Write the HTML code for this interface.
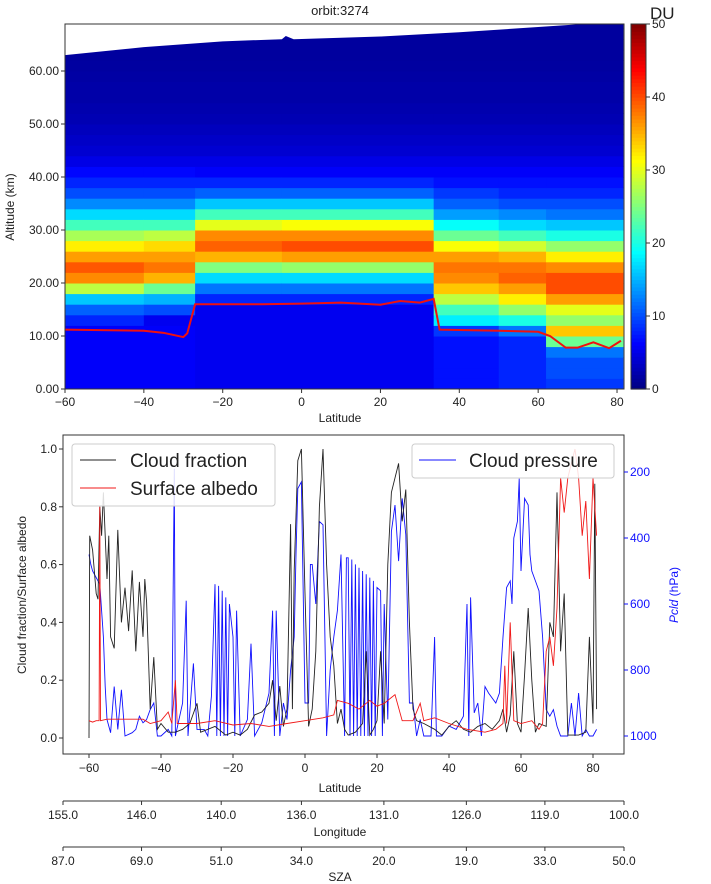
<!DOCTYPE html>
<html><head><meta charset="utf-8"><style>
body{margin:0;background:#fff;}
svg{display:block;font-family:"Liberation Sans","DejaVu Sans",sans-serif;}
</style></head><body>
<svg id="c" width="711" height="884" viewBox="0 0 711 884"></svg>
<script>
// ===== Top heatmap data =====
const colLatEdges=[-60,-40,-27,-5,33.5,50,62,81.5];
const rowAltStep=2; // km per row, rows from 0 km upward
const colA=[6,6,6,6,6,6,8,11,16,28,37,39.5,36,32,27,22,17,13,10,8,6.5,5,4,3.5,3,2.5,2.3,2,2,1.8,1.6,1.5,1.5,1.5,1.5];
const colB=[6,6,6,6,6,6,5.5,10,15,24,35,38,36,33,28,22,17,13,10,8,6.5,5,4,3.5,3,2.5,2.3,2,2,1.8,1.6,1.5,1.5,1.5,1.5];
const colC=[5.5,5.5,5.5,5.5,5.5,5.5,5.5,5.5,8,12,17,25,35,39,37,30,22,16,11,8,6,5,4,3.5,3,2.5,2.3,2,2,1.8,1.6,1.5,1.5,1.5,1.5];
const colD=[5.5,5.5,5.5,5.5,5.5,5.5,5.5,5.5,8,12,17,26,36,40,37,31,22,16,11,8,6,5,4,3.5,3,2.5,2.3,2,2,1.8,1.6,1.5,1.5,1.5,1.5];
const colE=[7,7,7,7,7,9,18,22,28,34,37,38,36,31,24,19,14,11,9,7,6,5,4,3.5,3,2.5,2.3,2,2,1.8,1.6,1.5,1.5,1.5,1.5];
const colF=[8,8,8,8,8,12,20,26,32,36,39,38,35,29,22,17,13,10,8,7,6,5,4,3.5,3,2.5,2.3,2,2,1.8,1.6,1.5,1.5,1.5,1.5];
const colG=[9,10,10,12,24,34,26,30,36,40,40,37,32,26,20,16,12,10,8,7,6,5,4,3.5,3,2.5,2.3,2,2,1.8,1.6,1.5,1.5,1.5,1.5];
const heatCols=[colA,colB,colC,colD,colE,colF,colG];
const topLat=[-60,-40,-20,-5,-4,-2,20,40,60,70,81.5];
const topAlt=[63,64.5,65.6,66,66.6,66,66.5,67.3,68.3,68.8,69];
const tropLat=[-60,-40,-35,-30,-29,-27,-10,0,10,20,25,30,33.5,35,50,60,63,67,70,74,78,81];
const tropAlt=[11.2,11.0,10.6,9.8,10.5,16.0,16.0,16.1,16.3,15.9,16.6,16.3,17,11.2,11.0,10.8,10,7.8,7.8,8.8,7.7,9.1];
const topXTicks=[-60,-40,-20,0,20,40,60,80];
const topYTicks=[0,10,20,30,40,50,60];
const cbTicks=[0,10,20,30,40,50];
// ===== Bottom line data =====
const cfLat=[-60,-59.8,-59,-58,-57.5,-57,-56.5,-56,-55,-54.5,-54,-53,-52,-51,-50,-49,-48,-47,-46,-45,-44.5,-44,-43,-42,-41,-40,-38,-36,-34,-32,-30,-29,-27,-25,-22,-20,-18,-16,-14,-12,-10,-9,-8,-7,-6,-5,-4,-3.5,-3,-2,-1,0,1,2,3,4,5,6,7,8,9,10,11,12,14,16,17,18,19,20,21,22,23,24,25,26,27,28,29,30,31,33,36,38,40,42,44,46,48,50,52,54,55,56,57,58,59,60,61,62,63,64,65,67,68,69,70,71,72,73,76,78,79,80,80.5,81];
const cfVal=[0.0,0.7,0.65,0.5,0.48,0.8,0.7,0.85,0.55,0.7,0.35,0.31,0.72,0.4,0.52,0.37,0.58,0.3,0.54,0.35,0.55,0.47,0.1,0.28,0.03,0.05,0.02,0.02,0.03,0.05,0.12,0.02,0.03,0.04,0.01,0.02,0.01,0.03,0.08,0.09,0.12,0.2,0.06,0.18,0.04,0.1,0.74,0.1,0.58,0.96,1.0,0.5,0.04,0.1,0.3,0.8,1.0,0.6,0.35,0.25,0.05,0.1,0.03,0.01,0.02,0.05,0.3,0.01,0.03,0.06,0.3,0.05,0.6,0.85,0.9,0.95,0.75,0.86,0.4,0.1,0.06,0.05,0.03,0.01,0.04,0.06,0.03,0.02,0.04,0.05,0.03,0.06,0.1,0.02,0.08,0.3,0.05,0.02,0.22,0.45,0.2,0.02,0.05,0.04,0.4,0.35,0.85,0.3,0.5,0.01,0.01,0.02,0.35,0.05,0.88,0.1];
const saLat=[-60,-59,-58,-57.2,-57,-56.8,-55,-50,-45,-43,-40,-38,-37,-36,-35.5,-30,-25,-20,-15,-10,-5,0,5,8,9,12,15,18,20,22,24,25,27,30,32,33,36,40,45,50,53,55,55.5,56,57,58,60,63,65,66,67,68,69,70,71,72,73,74,75,76,77,78,79,80,81];
const saVal=[0.06,0.055,0.06,0.06,0.8,0.06,0.065,0.065,0.065,0.05,0.06,0.09,0.05,0.2,0.05,0.05,0.06,0.045,0.05,0.04,0.05,0.06,0.07,0.08,0.13,0.12,0.1,0.13,0.11,0.12,0.14,0.15,0.06,0.06,0.12,0.06,0.07,0.05,0.03,0.02,0.03,0.05,0.25,0.05,0.4,0.06,0.05,0.06,0.03,0.05,0.3,0.35,0.25,0.45,0.9,0.78,0.9,0.95,1.0,0.9,0.7,0.82,0.55,0.9,0.7];
const cpLat=[-60,-59.5,-59,-58,-57,-56,-55.5,-55,-54,-53,-52,-51,-50,-48,-47,-46,-45,-44,-43,-42,-41,-40,-38,-37,-36.3,-36,-34,-33,-32.5,-31,-30,-28,-27,-26,-25,-24.5,-24,-23.5,-23,-22.5,-22,-21.5,-21,-20,-19.5,-19,-18,-16,-15,-14,-12,-10,-9,-8.5,-8,-7,-6,-5,-4,-3,-2.5,-2,-1,0,1,1.5,2,3,4,5,6,7,8,9,10,11,11.5,12,12.5,13,13.5,14,14.5,15,15.5,16,16.5,17,17.5,18,18.5,19,19.5,20,21,21.5,22,23,24,25,26,27,28,29,30,31,32,33,35,36,36.5,38,40,42,44,45,45.5,46,47,48,49,50,51,53,54,55,56,57,57.5,58,59,59.5,60,61,62,62.5,63,64,65,66,67,68,69,70,71,73,74,75,76,77,78,79,80,81];
const cpVal=[450,480,500,520,540,700,850,950,990,850,980,860,1000,990,980,940,960,950,920,900,1000,1000,980,1000,190,1000,900,590,1000,780,980,980,1000,880,540,1000,545,1000,560,1000,580,1000,600,700,1000,620,1000,950,720,1000,960,870,620,1000,620,1000,900,950,800,700,450,250,230,900,900,480,480,600,350,360,1000,800,700,620,450,1000,460,460,1000,465,1000,480,1000,490,1000,500,1000,510,1000,520,1000,530,1000,550,560,1000,600,950,380,300,470,280,390,900,900,1000,950,1000,1000,700,1000,1000,970,980,940,600,1000,580,930,900,1000,850,870,900,870,700,550,530,600,400,350,220,500,280,300,450,500,530,560,700,920,940,920,970,1000,1000,900,1000,870,1000,980,1000,1000,980];
const botXTicks=[-60,-40,-20,0,20,40,60,80];
const leftYTicks=[0,0.2,0.4,0.6,0.8,1.0];
const rightYTicks=[200,400,600,800,1000];
const lonLabels=["155.0","146.0","140.0","136.0","131.0","126.0","119.0","100.0"];
const lonFrac=[0,0.14,0.282,0.425,0.572,0.719,0.859,1];
const szaLabels=["87.0","69.0","51.0","34.0","20.0","19.0","33.0","50.0"];

const NS="http://www.w3.org/2000/svg";
const svg=document.getElementById('c');
function mk(tag,attrs,parent){const e=document.createElementNS(NS,tag);for(const k in attrs)e.setAttribute(k,attrs[k]);(parent||svg).appendChild(e);return e;}
function txt(s,x,y,attrs){const e=mk('text',Object.assign({x:x,y:y,'font-size':12,fill:'#222'},attrs||{}));e.textContent=s;return e;}
function jet(v){let t=Math.max(0,Math.min(1,v/50));
 const r=Math.max(0,Math.min(1,1.5-Math.abs(4*t-3))),g=Math.max(0,Math.min(1,1.5-Math.abs(4*t-2))),b=Math.max(0,Math.min(1,1.5-Math.abs(4*t-1)));
 return `rgb(${Math.round(r*255)},${Math.round(g*255)},${Math.round(b*255)})`;}

// top axes
const TL=65,TR=624,TT=24,TB=389;
const xT=lat=>TL+(lat+60)*3.943;
const yT=a=>TB-a*5.3;
const hm=mk('g',{});


heatCols.forEach((col,ci)=>{
 const x0=xT(colLatEdges[ci]),x1=xT(colLatEdges[ci+1]);
 col.forEach((v,ri)=>{
  const a0=ri*rowAltStep,a1=a0+rowAltStep;
  const y1=Math.max(TT,yT(a1)),y0=yT(a0);
  if(y0<=TT)return;
  const r=mk('rect',{x:x0,y:y1,width:x1-x0+0.5,height:y0-y1+0.5,fill:jet(v)},hm);
  
  
 });
});
// white top mask
let pts=`${TL},${TT} `+topLat.map((l,i)=>`${xT(l)},${yT(topAlt[i])}`).join(' ')+` ${TR},${TT}`;
const mask=mk('polygon',{points:pts,fill:'#fff'});


const trop=mk('polyline',{points:tropLat.map((l,i)=>`${xT(l)},${yT(tropAlt[i])}`).join(' '),fill:'none',stroke:'#f01010','stroke-width':2});


const tframe=mk('rect',{x:TL,y:TT,width:TR-TL,height:TB-TT,fill:'none',stroke:'#333','stroke-width':1});


topXTicks.forEach(t=>{const x=xT(t);mk('line',{x1:x,y1:TB,x2:x,y2:TB+4,stroke:'#333'});
 const e=txt(String(t).replace('-','\u2212'),x,TB+17,{'text-anchor':'middle'});
 });
topYTicks.forEach(t=>{const y=yT(t);mk('line',{x1:TL-4,y1:y,x2:TL,y2:y,stroke:'#333'});
 const e=txt(t.toFixed(2),TL-6,y+4,{'text-anchor':'end'});
 });
let e=txt('orbit:3274',340,15,{'text-anchor':'middle','font-size':13});

e=txt('Latitude',340,422,{'text-anchor':'middle'});

e=txt('Altitude (km)',14,207,{'text-anchor':'middle',transform:'rotate(-90 14 207)'});

// colorbar
const CX=631,CW=15;
const cb=mk('g',{});
for(let i=0;i<100;i++){const v=i/2;const y=TB-(i+1)*(TB-TT)/100;mk('rect',{x:CX,y:y,width:CW,height:(TB-TT)/100+0.6,fill:jet(v+0.25)},cb);}
mk('rect',{x:CX,y:TT,width:CW,height:TB-TT,fill:'none',stroke:'#333'},cb);
cbTicks.forEach(t=>{const y=TB-t/50*(TB-TT);mk('line',{x1:CX+CW,y1:y,x2:CX+CW+4,y2:y,stroke:'#333'});
 const q=txt(String(t),CX+CW+6,y+4);});
e=txt('DU',650,19,{'font-size':17});


// bottom axes
const BL=63,BR=624,BT=435,BB=754;
const xB=l=>89+(l+60)*3.6;
const yL=v=>738-v*289;
const yR=p=>472+(p-200)*0.33;
const bframe=mk('rect',{x:BL,y:BT,width:BR-BL,height:BB-BT,fill:'#fff',stroke:'#333'});

const clip=mk('clipPath',{id:'bclip'});mk('rect',{x:BL,y:BT,width:BR-BL,height:BB-BT},clip);
function series(lat,val,fy,col,name){const p=mk('polyline',{points:lat.map((l,i)=>`${xB(l).toFixed(1)},${fy(val[i]).toFixed(1)}`).join(' '),fill:'none',stroke:col,'stroke-width':0.9,'clip-path':'url(#bclip)'});
 }
series(cpLat,cpVal,yR,'#1010ff','cloud-pressure-line');
series(cfLat,cfVal,yL,'#222','cloud-fraction-line');
series(saLat,saVal,yL,'#f01818','surface-albedo-line');
botXTicks.forEach(t=>{const x=xB(t);mk('line',{x1:x,y1:BB,x2:x,y2:BB+4,stroke:'#333'});
 const q=txt(String(t).replace('-','\u2212'),x,BB+18,{'text-anchor':'middle'});});
leftYTicks.forEach(t=>{const y=yL(t);mk('line',{x1:BL-4,y1:y,x2:BL,y2:y,stroke:'#333'});
 const q=txt(t.toFixed(1),BL-6,y+4,{'text-anchor':'end'});});
rightYTicks.forEach(t=>{const y=yR(t);mk('line',{x1:BR,y1:y,x2:BR+4,y2:y,stroke:'#1010ff'});
 const q=txt(String(t),BR+6,y+4,{fill:'#1010ff'});});
e=txt('Latitude',340,792,{'text-anchor':'middle'});
e=txt('Cloud fraction/Surface albedo',26,595,{'text-anchor':'middle',transform:'rotate(-90 26 595)'});
e=mk('text',{x:678,y:595,'font-size':12,fill:'#1010ff','text-anchor':'middle',transform:'rotate(-90 678 595)'});
e.innerHTML='<tspan font-style="italic">Pcld</tspan> (hPa)';

// legends
const lg1=mk('g',{});
mk('rect',{x:72,y:444,width:203,height:62,rx:3,fill:'#fff','fill-opacity':0.85,stroke:'#ccc'},lg1);
mk('line',{x1:80,y1:460,x2:116,y2:460,stroke:'#222'},lg1);
mk('line',{x1:80,y1:488,x2:116,y2:488,stroke:'#f01818'},lg1);
e=txt('Cloud fraction',130,467,{'font-size':19});
e=txt('Surface albedo',130,495,{'font-size':19});
const lg2=mk('g',{});
mk('rect',{x:412,y:444,width:202,height:34,rx:3,fill:'#fff','fill-opacity':0.85,stroke:'#ccc'},lg2);
mk('line',{x1:419,y1:460,x2:456,y2:460,stroke:'#1010ff'},lg2);
e=txt('Cloud pressure',469,467,{'font-size':19});
// secondary axes
function secAxis(y,labels,title,ty,name){const g=mk('g',{});
 mk('line',{x1:BL,y1:y,x2:BR,y2:y,stroke:'#333'},g);
 labels.forEach((s,i)=>{const x=BL+lonFrac[i]*(BR-BL);mk('line',{x1:x,y1:y,x2:x,y2:y+4,stroke:'#333'},g);
  const q=txt(s,x,y+18,{'text-anchor':'middle'});});
 const q=txt(title,340,ty,{'text-anchor':'middle'});}
secAxis(801,lonLabels,'Longitude',836,'longitude-axis');
secAxis(847,szaLabels,'SZA',881,'sza-axis');
</script>
</body></html>
